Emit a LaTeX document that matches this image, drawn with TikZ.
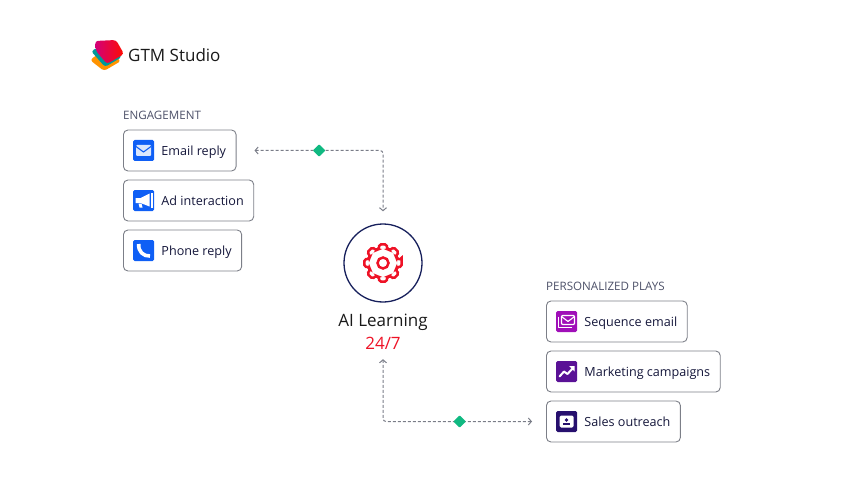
\documentclass[tikz,border=0pt]{standalone}
\usepackage{fontspec}
\setmainfont{Open Sans}
\usetikzlibrary{shapes.geometric, arrows.meta, positioning}
\definecolor{inkn}{HTML}{14163A}
\definecolor{capn}{HTML}{4C5068}
\definecolor{edgen}{HTML}{7C7F88}
\definecolor{linkn}{HTML}{7A7D88}
\definecolor{hubn}{HTML}{17205C}
\definecolor{redn}{HTML}{EE1226}
\definecolor{gemn}{HTML}{10B981}
\definecolor{bluen}{HTML}{0F5FF5}
\definecolor{seqn}{HTML}{A00FB8}
\definecolor{mktn}{HTML}{5A1296}
\definecolor{saln}{HTML}{27106E}

\begin{document}
\begin{tikzpicture}[
    x=1pt, y=-1pt,
    box/.style={
        draw=edgen,
        line width=0.9pt,
        rounded corners=4.5pt,
        font=\fontsize{12.6}{15}\selectfont,
        text=inkn,
        minimum height=41pt,
        text height=10.5pt,
        text depth=0pt,
        inner ysep=0pt,
        inner xsep=10pt
    },
    icon/.style={
        rounded corners=1.5pt,
        minimum size=21pt,
        inner sep=0pt
    },
    heading/.style={font=\fontsize{11.6}{14}\selectfont, text=capn, inner sep=0pt},
    link/.style={<->, draw=linkn, line width=1pt, dash pattern=on 3pt off 2pt, rounded corners=3pt},
    gem/.style={diamond, fill=gemn, rounded corners=0.8pt, minimum size=13pt, inner sep=0pt},
    glyph/.style={draw=white, line width=1.1pt, line join=round, line cap=round},
    >={Straight Barb[length=3pt,width=7pt]}
]
\useasboundingbox (0,0) rectangle (845,489);

% logo
\coordinate (logo) at (106,55);
\fill[orange!85!yellow, rounded corners=3pt] (90,60) -- (105,49) -- (121,61) -- (104,71) -- cycle;
\fill[teal!80!cyan, rounded corners=3pt] (91,51) -- (108,43) -- (122,57) -- (105,67) -- cycle;
\shade[left color=purple!70!magenta, right color=red!90!orange, rounded corners=3pt] (95,41) -- (116,40) -- (124,54) -- (107,64) -- (96,51) -- cycle;
\node[anchor=west, inner sep=0pt, font=\fontsize{17}{20}\selectfont, text=black!90] (brand) at (128,55) {GTM Studio};

% left group
\node[heading, anchor=west] (engcap) at (123,115) {ENGAGEMENT};
\node[box, anchor=west] (email) at (123,150.5) {\hspace*{28pt}Email reply};
\node[box, below=8.1pt of email.south west, anchor=north west] (adint) {\hspace*{28pt}Ad interaction};
\node[box, below=8.1pt of adint.south west, anchor=north west] (phone) {\hspace*{28pt}Phone reply};

\node[icon, fill=bluen] (emailicon) at ([xshift=20.5pt]email.west) {};
\node[icon, fill=bluen] (adicon) at ([xshift=20.5pt]adint.west) {};
\node[icon, fill=bluen] (phoneicon) at ([xshift=20.5pt]phone.west) {};

\begin{scope}[shift={(emailicon.center)}]
\fill[white!85!bluen, rounded corners=1pt] (-7.5,-5.5) rectangle (7.5,5.5);
\draw[bluen, line width=1.1pt] (-7.5,-4) -- (0,1.5) -- (7.5,-4);
\end{scope}
\begin{scope}[shift={(adicon.center)}]
\fill[white] (-8,-2.5) -- (-3,-2.5) -- (6,-7) -- (6,6) -- (-3,2.5) -- (-8,2.5) -- cycle;
\fill[white] (-5,3) -- (-2,3) -- (-1,7) -- (-4,7) -- cycle;
\fill[white] (7,-8) rectangle (9,7);
\end{scope}
\begin{scope}[shift={(phoneicon.center)}]
\draw[white, line width=3.6pt] (-4.8,-6.5) .. controls (-5.5,1) and (0,6) .. (6.5,5.5);
\end{scope}

% hub
\node[circle, draw=hubn, line width=1.3pt, minimum size=78pt, inner sep=0pt] (hub) at (383,263) {};
\begin{scope}[shift={(hub.center)}]
\draw[redn, line width=2.5pt, rounded corners=1.6pt] (-11:19)
    \foreach \a in {0,45,...,315} {
        -- (\a+11:19) -- (\a+17:14.5) -- (\a+28:14.5) -- (\a+34:19)
    } -- cycle;
\draw[redn, line width=2.5pt] (0,0) circle (5.5);
\end{scope}
\node[inner sep=0pt, font=\fontsize{17}{20}\selectfont, text=black!90] (learn) at (383,322) {AI Learning};
\node[inner sep=0pt, font=\fontsize{17}{20}\selectfont, text=redn, below=7pt of learn] (always) {24/7};

% right group
\node[heading, anchor=west] (playcap) at (546,286) {PERSONALIZED PLAYS};
\node[box, anchor=west] (seqmail) at (546,321.5) {\hspace*{28pt}Sequence email};
\node[box, below=8.1pt of seqmail.south west, anchor=north west] (market) {\hspace*{28pt}Marketing campaigns};
\node[box, below=8.1pt of market.south west, anchor=north west] (sales) {\hspace*{28pt}Sales outreach};

\node[icon, fill=seqn] (seqicon) at ([xshift=20.5pt]seqmail.west) {};
\node[icon, fill=mktn] (marketicon) at ([xshift=20.5pt]market.west) {};
\node[icon, fill=saln] (salesicon) at ([xshift=20.5pt]sales.west) {};

\begin{scope}[shift={(seqicon.center)}]
\draw[glyph, rounded corners=1pt] (-5,-6) rectangle (8,3);
\draw[glyph] (-5,-5) -- (1.5,0) -- (8,-5);
\draw[glyph] (-8,-4) -- (-8,6) -- (5,6);
\end{scope}
\begin{scope}[shift={(marketicon.center)}]
\draw[glyph, line width=2pt] (-7,5) -- (-2.5,0) -- (1,2.5) -- (6.5,-3.5);
\fill[white] (2.5,-5.5) -- (8,-5.5) -- (8,0) -- cycle;
\end{scope}
\begin{scope}[shift={(salesicon.center)}]
\fill[white, rounded corners=1.5pt] (-7,-6) rectangle (7,6);
\fill[saln] (0,-1.5) circle (1.8);
\fill[saln] (-3.5,3.5) rectangle (3.5,1.2);
\end{scope}

\draw[link, shorten <=18pt, shorten >=12pt] (email) -| node[gem, pos=.282] (gemtop) {} (hub);
\draw[link, shorten <=14pt, shorten >=9pt] (sales) -| node[gem, pos=.265] (gembot) {} (always);

\end{tikzpicture}
\end{document}
